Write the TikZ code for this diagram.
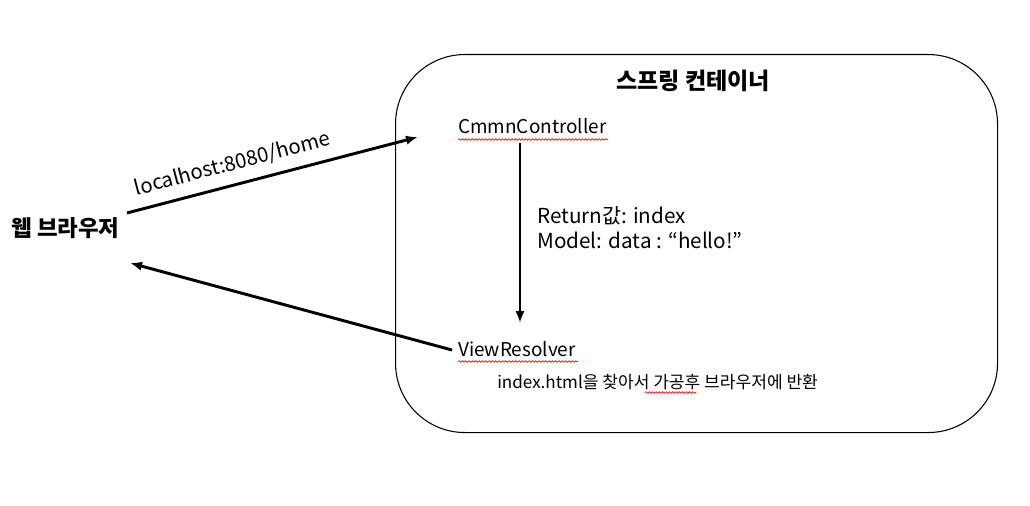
\documentclass[tikz,border=0pt]{standalone}
\usepackage{fontspec}
\setmainfont{Noto Sans CJK KR}
\usetikzlibrary{arrows.meta,decorations.pathmorphing}
\tikzset{
  px/.style={x=0.75pt,y=-0.75pt},
  lbl/.style={inner sep=0pt,anchor=base west,font=\fontsize{14.2}{16}\selectfont},
  small/.style={inner sep=0pt,anchor=base west,font=\fontsize{12.8}{14}\selectfont},
  title/.style={inner sep=0pt,anchor=base,font=\fontsize{17.3}{20}\selectfont\bfseries},
  conn/.style={line width=2.2pt,-{Latex[length=9pt,width=7pt]}},
  spell/.style={red,line width=0.5pt,decorate,decoration={snake,amplitude=0.6pt,segment length=2.5pt}}
}
\begin{document}
\begin{tikzpicture}[px]
\useasboundingbox[fill=white] (0,0) rectangle (1030,506);
\node[draw,line width=0.8pt,rounded corners=52pt,minimum width=451.5pt,minimum height=283.5pt,anchor=north west] (box) at (395,54) {};
\node[title] (t) at (693,90) {스프링 컨테이너};
\node[title,anchor=base west,font=\fontsize{16.8}{20}\selectfont\bfseries] (web) at (11,236) {웹 브라우저};
\node[lbl] (cc) at (458,134) {CmmnController};
\node[lbl] (vr) at (458,356) {ViewResolver};
\node[small] (desc) at (497,388) {index.html을 찾아서 가공후 브라우저에 반환};
\node[lbl,align=left,anchor=north west,font=\fontsize{15.5}{19}\selectfont] (ret) at (537,206) {Return값: index\\Model: data : “hello!”};
\coordinate (a1s) at (127,213);
\coordinate (a1e) at (418,137);
\coordinate (a2s) at (452,350);
\coordinate (a2e) at (130,263);
\coordinate (a3s) at (520,143);
\coordinate (a3e) at (520,323);
\draw[conn] (a1s) -- (a1e) node[pos=0.38,sloped,above=7pt,inner sep=0pt,font=\fontsize{15.3}{18}\selectfont] (url) {localhost:8080/home};
\draw[conn] (a2s) -- (a2e);
\draw[conn] (a3s) -- (a3e);
\draw[spell] (458,139.5) -- (608,139.5);
\draw[spell] (458,361.5) -- (578,361.5);
\draw[spell] (645,392.5) -- (696,392.5);
\end{tikzpicture}
\end{document}
